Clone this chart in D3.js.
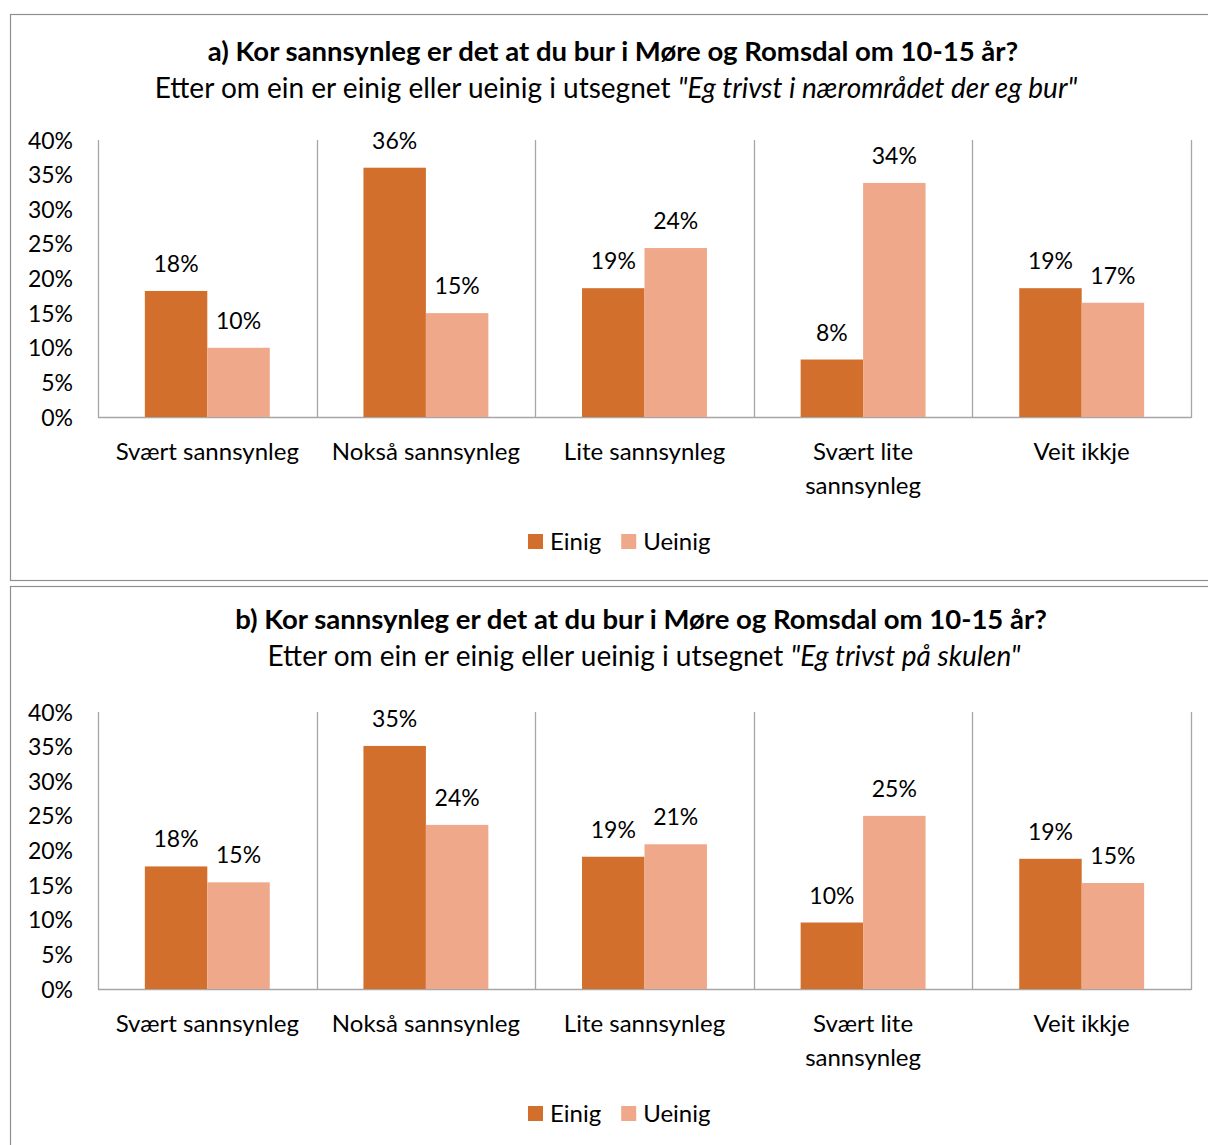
<!DOCTYPE html>
<html><head><meta charset="utf-8">
<script src="https://cdn.jsdelivr.net/npm/d3@7"></script>
<style>
body{margin:0;background:#fff;}
svg{display:block;font-family:Lato, "Open Sans", sans-serif;}
</style></head>
<body><svg id="chart" width="1208" height="1145"></svg>
<script>
const categories = ["Svært sannsynleg", "Nokså sannsynleg", "Lite sannsynleg", "Svært lite sannsynleg", "Veit ikkje"];
const seriesNames = ["Einig", "Ueinig"];
const einigA = [0.182, 0.360, 0.186, 0.083, 0.186];
const ueinigA = [0.100, 0.150, 0.244, 0.338, 0.165];
const einigB = [0.177, 0.351, 0.191, 0.096, 0.188];
const ueinigB = [0.154, 0.237, 0.209, 0.250, 0.153];
const yTicks = [0, 0.05, 0.10, 0.15, 0.20, 0.25, 0.30, 0.35, 0.40];
const titleA = "a) Kor sannsynleg er det at du bur i Møre og Romsdal om 10-15 år?";
const subA = "Etter om ein er einig eller ueinig i utsegnet ";
const quoteA = "\"Eg trivst i nærområdet der eg bur\"";
const titleB = "b) Kor sannsynleg er det at du bur i Møre og Romsdal om 10-15 år?";
const subB = "Etter om ein er einig eller ueinig i utsegnet ";
const quoteB = "\"Eg trivst på skulen\"";

const colors = ["#D26F2D", "#F0A88A"];
const svg = d3.select("#chart");
const fmt = d3.format(".0%");

function panel(off, border, title, sub, quote, titleX, e, u) {
  const g = svg.append("g").attr("transform", `translate(0,${off})`);
  g.append("rect").attr("x", 10.5).attr("y", border.y).attr("width", 1300).attr("height", border.h)
    .attr("fill", "none").attr("stroke", "#8f8f8f").attr("stroke-width", 1.2);
  g.append("text").attr("x", titleX).attr("y", 61 + border.ty).attr("text-anchor", "middle")
    .attr("font-weight", "bold").attr("font-size", 27.5).attr("fill", "#000").text(title);
  const st = g.append("text").attr("x", titleX + 3).attr("y", 98 + border.ty).attr("text-anchor", "middle")
    .attr("font-size", 28).attr("fill", "#000");
  st.append("tspan").text(sub);
  st.append("tspan").attr("font-style", "italic").text(quote);

  const x0 = d3.scaleBand().domain(categories).range([98, 1191]).paddingInner(0).paddingOuter(0);
  const x1 = d3.scaleBand().domain(seriesNames).range([0, x0.bandwidth()]).paddingInner(0).paddingOuter(0.75);
  const y = d3.scaleLinear().domain([0, 0.40]).range([417, 140]);

  // category separators
  const seps = [98].concat(categories.map(c => x0(c) + x0.bandwidth()));
  g.selectAll("line.sep").data(seps).join("line").attr("class", "sep")
    .attr("x1", d => Math.round(d) + 0.5).attr("x2", d => Math.round(d) + 0.5)
    .attr("y1", y(0.40)).attr("y2", y(0) + 1).attr("stroke", "#a6a6a6").attr("stroke-width", 1.3);
  g.append("line").attr("x1", 98).attr("x2", 1191).attr("y1", y(0) + 0.5).attr("y2", y(0) + 0.5)
    .attr("stroke", "#a6a6a6").attr("stroke-width", 1.3);

  // y axis labels
  const ya = d3.axisLeft(y).tickValues(yTicks).tickFormat(fmt).tickSize(0).tickPadding(0);
  const yg = g.append("g").attr("transform", "translate(73,0)").call(ya);
  yg.select(".domain").remove();
  yg.selectAll("text").attr("font-size", 23).attr("fill", "#000").attr("font-family", "Lato, sans-serif").attr("dy", "0.35em");

  const data = categories.map((c, i) => ({c, vals: [{s: "Einig", v: e[i]}, {s: "Ueinig", v: u[i]}]}));
  const cg = g.selectAll("g.cat").data(data).join("g").attr("class", "cat")
    .attr("transform", d => `translate(${x0(d.c)},0)`);
  cg.selectAll("rect").data(d => d.vals).join("rect")
    .attr("x", d => x1(d.s)).attr("width", x1.bandwidth())
    .attr("y", d => y(d.v)).attr("height", d => y(0) - y(d.v))
    .attr("fill", (d, i) => colors[i]);
  cg.selectAll("text.lbl").data(d => d.vals).join("text").attr("class", "lbl")
    .attr("x", d => x1(d.s) + x1.bandwidth() / 2).attr("y", d => y(d.v) - 19)
    .attr("text-anchor", "middle").attr("font-size", 23).attr("fill", "#000").text(d => fmt(d.v));

  // category labels
  const wrap = {"Svært lite sannsynleg": ["Svært lite", "sannsynleg"]};
  g.selectAll("text.cat").data(categories).join("text").attr("class", "cat")
    .attr("x", d => x0(d) + x0.bandwidth() / 2).attr("y", 459.5).attr("text-anchor", "middle")
    .attr("font-size", 24).attr("fill", "#000")
    .each(function(d) {
      const lines = wrap[d] || [d];
      d3.select(this).selectAll("tspan").data(lines).join("tspan")
        .attr("x", x0(d) + x0.bandwidth() / 2).attr("dy", (l, i) => i ? 34 : 0).text(l => l);
    });

  // legend
  const lg = g.append("g");
  let lx = 528;
  seriesNames.forEach((s, i) => {
    lg.append("rect").attr("x", lx).attr("y", 534).attr("width", 15).attr("height", 15).attr("fill", colors[i]);
    const t = lg.append("text").attr("x", lx + 22).attr("y", 549.5).attr("font-size", 24).attr("fill", "#000").text(s);
    lx += 22 + t.node().getComputedTextLength() + 20;
  });
}

panel(0, {y: 14.5, h: 566, ty: 0}, titleA, subA, quoteA, 613, einigA, ueinigA);
panel(572, {y: 14.5, h: 600, ty: -4}, titleB, subB, quoteB, 641, einigB, ueinigB);
</script></body></html>
